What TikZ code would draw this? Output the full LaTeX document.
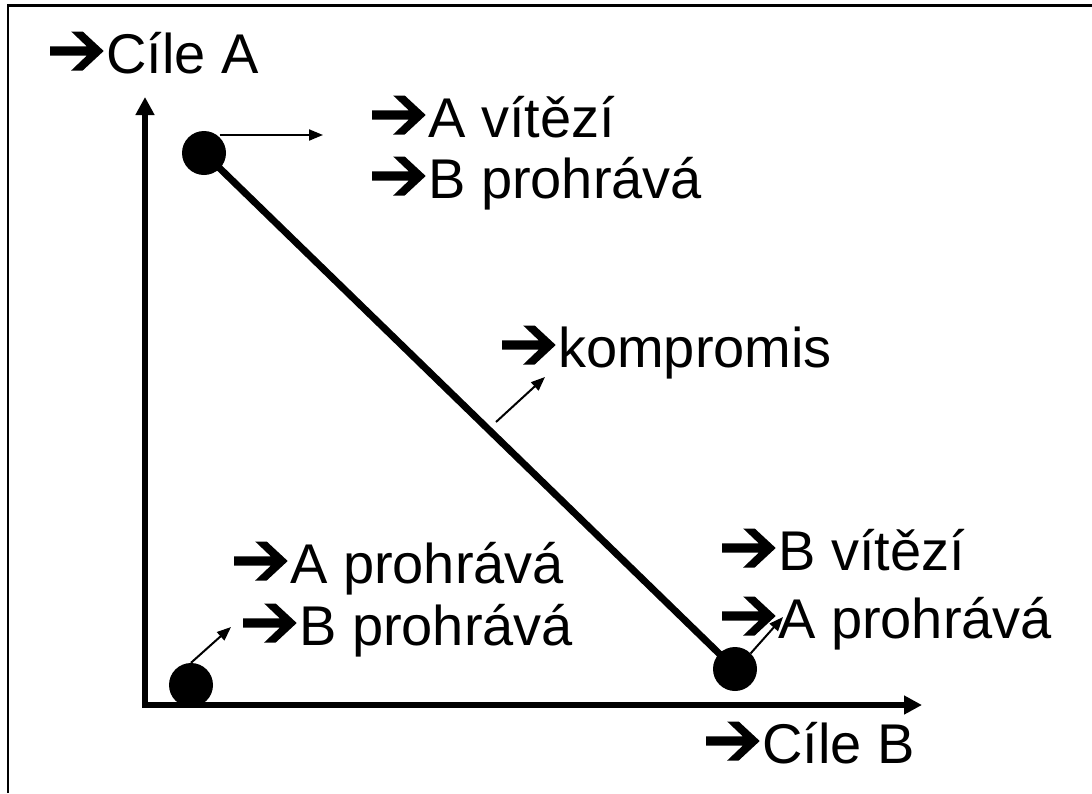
\documentclass[tikz,border=0pt]{standalone}
\usepackage{fontspec}
\setmainfont{Liberation Sans}
\usetikzlibrary{arrows.meta}

% heavy chevron-headed bullet arrow, sized for 56pt text
\newsavebox\bulbox
\sbox\bulbox{\tikz[baseline=0pt,x=1pt,y=1pt]{%
  \useasboundingbox (0,0) rectangle (56,41);
  \fill (0,17.3) -- (0,26.7) -- (36.5,26.7) -- (21,41.5) -- (32.5,41.5)
        -- (53.5,22) -- (32.5,2.5) -- (21,2.5) -- (36.5,17.3) -- cycle;}}
\newcommand\bul{\usebox\bulbox}

\begin{document}
\begin{tikzpicture}[x=1pt,y=-1pt,
  lbl/.style={anchor=base west, inner sep=0pt, font=\fontsize{56}{60}\selectfont},
  dot/.style={circle, fill=black, minimum size=44pt, inner sep=0pt},
  axis/.style={line width=5.5pt, -{Triangle[length=18pt,width=18pt]}},
  pointer/.style={line width=2pt, -{Triangle[length=14pt,width=11pt]}},
  front/.style={line width=7pt},
  frame/.style={line width=2.5pt}]
\useasboundingbox (0,0) rectangle (1092,793);

% page frame (top and left edges)
\coordinate (fl) at (8,793);
\coordinate (fc) at (8,5.5);
\coordinate (fr) at (1092,5.5);
\draw[frame] (fl) -- (fc) -- (fr);

% axes
\coordinate (o) at (145,705);
\coordinate (ob) at (145,708);
\coordinate (ya) at (145,97);
\coordinate (xa) at (922,705);
\draw[axis] (ob) -- (ya);
\draw[axis] (o) -- (xa);

% outcome points
\node[dot] (p1) at (204,153) {};
\node[dot] (p2) at (191,685) {};
\node[dot] (p3) at (735,669) {};

% compromise line
\draw[front] (p1.center) -- (p3.center);

% labels
\node[lbl] (t0) at (50,73)  {\bul Cíle A};
\node[lbl] (t1) at (372,137) {\bul A vítězí};
\node[lbl] (t2) at (372,198) {\bul B prohrává};
\node[lbl] (t3) at (502,367) {\bul kompromis};
\node[lbl] (t4) at (234,583) {\bul A prohrává};
\node[lbl] (t5) at (243,645) {\bul B prohrává};
\node[lbl] (t6) at (722,570) {\bul B vítězí};
\node[lbl] (t7) at (722,638) {\bul A prohrává};
\node[lbl] (t8) at (706,763) {\bul Cíle B};

% pointers towards the labels
\coordinate (a1) at (323,135);
\coordinate (k0) at (496,422);
\coordinate (k1) at (545,377);
\coordinate (a2) at (231,627);
\coordinate (a3) at (783,617);
\draw[pointer] (p1.north east |- a1) -- (a1);
\draw[pointer] (k0) -- (k1);
\draw[pointer] (p2.north) -- (a2);
\draw[pointer] (p3.north east) -- (a3);
\end{tikzpicture}
\end{document}
